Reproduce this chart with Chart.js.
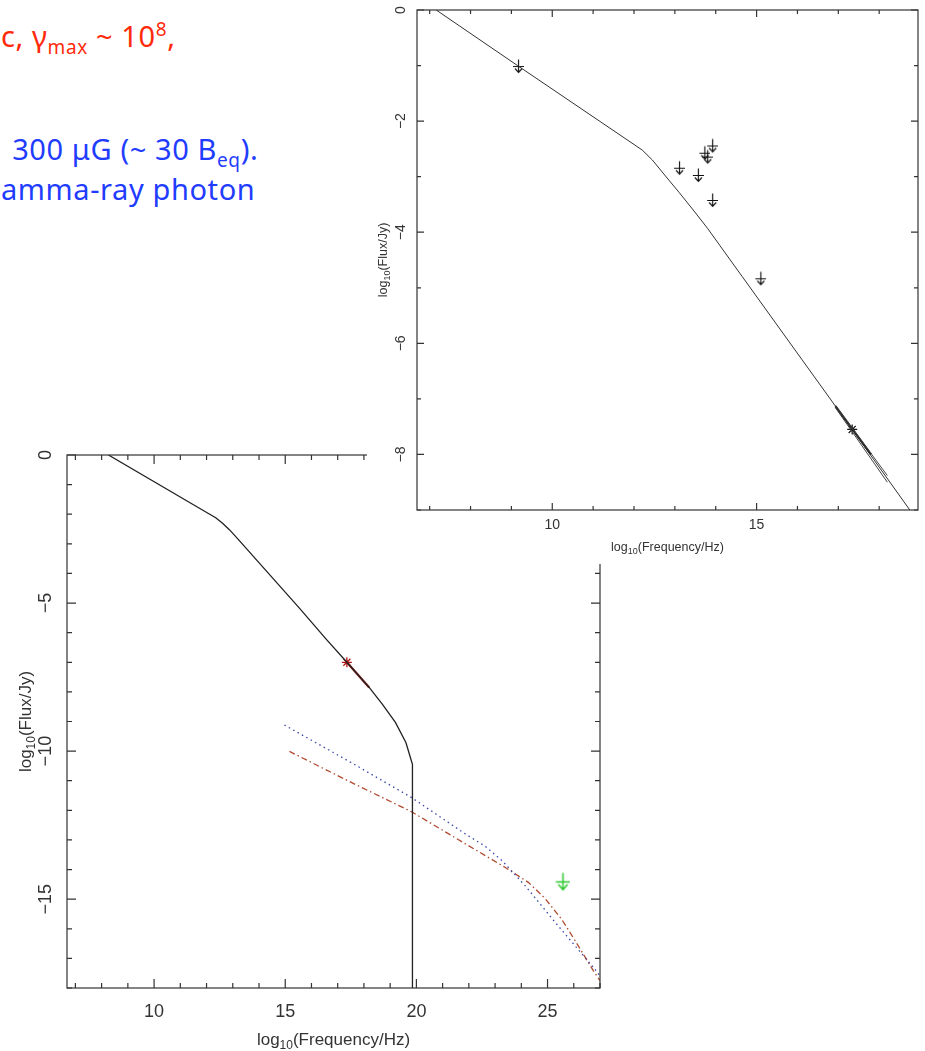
<!DOCTYPE html>
<html>
<head>
<meta charset="utf-8">
<script src="https://cdn.jsdelivr.net/npm/chart.js@4.4.1/dist/chart.umd.min.js"></script>
<style>
  body { margin: 0; background: #fff; }
  #page { position: relative; width: 925px; height: 1051px; overflow: hidden; }
  .note { position: absolute; white-space: nowrap; font-family: "Comic Sans MS", "Noto Sans", sans-serif; font-size: 29px; line-height: 29px; letter-spacing: 0.6px; }
  .note sub, .note sup { font-size: 19px; line-height: 0; }
  .red { color: #ff2a0a; }
  .blue { color: #1f3cff; }
  #lowerBox { position: absolute; left: 0; top: 430px; width: 620px; height: 621px; }
  #upperBox { position: absolute; left: 367px; top: 0; width: 558px; height: 564px; background: #fff; }
</style>
</head>
<body>
<div id="page">
  <div class="note red" style="left:1px; top:21px;">c, &gamma;<sub>max</sub> ~ 10<sup>8</sup>,</div>
  <div class="note blue" style="left:4px; top:134px;">&nbsp;300 &mu;G (~ 30 B<sub>eq</sub>).</div>
  <div class="note blue" style="left:1px; top:174px;">amma-ray photon</div>

  <div id="lowerBox"><canvas id="lowerChart" width="620" height="621"></canvas></div>
  <div id="upperBox"><canvas id="upperChart" width="558" height="564"></canvas></div>
</div>

<script>
// --- upper panel: radio to X-ray spectrum ---
const upModelX = [7.16, 9.15, 12.2, 12.45, 12.75, 13.1, 13.45, 13.8, 14.2, 14.65, 17.34, 18.75];
const upModelY = [0, -1.0, -2.52, -2.7, -2.97, -3.28, -3.6, -3.93, -4.34, -4.8, -7.55, -9.0];
const upLimitX = [9.15, 13.09, 13.55, 13.71, 13.78, 13.9, 13.9, 15.08];
const upLimitY = [-1.0, -2.83, -2.96, -2.56, -2.63, -2.43, -3.41, -4.82];
const upStarX = [17.34];
const upStarY = [-7.55];
const upBowX = [16.93, 18.2];
const upBowTopY = [-7.12, -8.38];
const upBowLowY = [-7.16, -8.5];
const upThickX = [16.93, 17.8];
const upThickY = [-7.13, -8.0];

// --- lower panel: synchrotron + inverse Compton ---
const loSyncX = [8.26, 12.12, 12.35, 12.6, 12.88, 13.2, 15.54, 16.56, 17.35, 18.2, 18.7, 19.2, 19.6, 19.8, 19.85, 19.85];
const loSyncY = [0, -2.0, -2.12, -2.3, -2.53, -2.84, -5.17, -6.22, -7.0, -7.85, -8.41, -9.03, -9.71, -10.3, -10.45, -18];
const loFitX = [17.35, 18.2];
const loFitY = [-7.0, -7.85];
const loStarX = [17.35];
const loStarY = [-7.0];
const loBlueX = [14.97, 17.5, 19.82, 21.87, 22.6, 23.27, 24.15, 25.3, 26.8, 27.0];
const loBlueY = [-9.12, -10.38, -11.57, -12.8, -13.2, -13.7, -14.55, -15.79, -17.36, -17.6];
const loRedX = [15.16, 17.5, 19.82, 22.0, 23.39, 24.28, 24.91, 25.54, 26.05, 26.75, 27.0];
const loRedY = [-10.01, -11.05, -12.05, -13.2, -13.93, -14.44, -14.98, -15.68, -16.4, -17.42, -17.75];
const loGammaX = [25.55];
const loGammaY = [-14.4];

const pts = (xs, ys) => xs.map((x, i) => ({ x: x, y: ys[i] }));

// upper-limit symbol: bar with a downward arrow
function limitMarker(color, s) {
  const c = document.createElement('canvas');
  c.width = Math.round(13 * s);
  c.height = Math.round(17 * s);
  const g = c.getContext('2d');
  const cx = Math.round(c.width / 2) + 0.5, cy = Math.round(c.height / 2) + 0.5;
  g.strokeStyle = color;
  g.lineWidth = 1.15 * s;
  g.beginPath();
  g.moveTo(cx, cy - 7 * s); g.lineTo(cx, cy + 6 * s);
  g.moveTo(cx - 5.5 * s, cy); g.lineTo(cx + 5.5 * s, cy);
  g.moveTo(cx - 3.5 * s, cy + 2 * s); g.lineTo(cx, cy + 6 * s); g.lineTo(cx + 3.5 * s, cy + 2 * s);
  g.stroke();
  return c;
}

function eachTick(min, max, minor, major, fn) {
  for (let i = Math.ceil(min / minor - 1e-9); i * minor <= max + 1e-9; i++) {
    const v = i * minor;
    fn(v, Math.abs(v / major - Math.round(v / major)) < 1e-6);
  }
}

const num = v => (v < 0 ? '\u2212' + Math.abs(v) : String(v));

// "log10(...)" with the 10 as subscript
function logTitle(ctx, x, y, rot, size, rest) {
  ctx.save();
  ctx.translate(x, y);
  ctx.rotate(rot);
  const big = size + 'px "Liberation Sans", Arial, sans-serif';
  const small = Math.round(size * 0.7) + 'px "Liberation Sans", Arial, sans-serif';
  ctx.font = big; const w1 = ctx.measureText('log').width; const w3 = ctx.measureText(rest).width;
  ctx.font = small; const w2 = ctx.measureText('10').width;
  let s = -(w1 + w2 + w3) / 2;
  ctx.textBaseline = 'middle';
  ctx.textAlign = 'left';
  ctx.font = big; ctx.fillText('log', s, 0);
  ctx.font = small; ctx.fillText('10', s + w1, size * 0.32);
  ctx.font = big; ctx.fillText(rest, s + w1 + w2, 0);
  ctx.restore();
}

// PGPLOT style box: inward ticks on all four sides, rotated y numbers
const pgFrame = {
  id: 'pgFrame',
  afterDraw(chart, args, o) {
    const ctx = chart.ctx, a = chart.chartArea;
    const xs = chart.scales.x, ys = chart.scales.y;
    ctx.save();
    ctx.strokeStyle = '#333';
    ctx.lineWidth = 1.2;
    ctx.strokeRect(a.left, a.top, a.right - a.left, a.bottom - a.top);
    ctx.beginPath();
    eachTick(xs.min, xs.max, o.xMinor, o.xMajor, (v, major) => {
      const p = xs.getPixelForValue(v), L = major ? o.majorLen : o.minorLen;
      ctx.moveTo(p, a.bottom); ctx.lineTo(p, a.bottom - L);
      ctx.moveTo(p, a.top); ctx.lineTo(p, a.top + L);
    });
    eachTick(ys.min, ys.max, o.yMinor, o.yMajor, (v, major) => {
      const p = ys.getPixelForValue(v), L = major ? o.majorLen : o.minorLen;
      ctx.moveTo(a.left, p); ctx.lineTo(a.left + L, p);
      ctx.moveTo(a.right, p); ctx.lineTo(a.right - L, p);
    });
    ctx.stroke();

    ctx.fillStyle = '#333';
    ctx.font = o.numSize + 'px "Liberation Sans", Arial, sans-serif';
    ctx.textAlign = 'center';
    ctx.textBaseline = 'middle';
    eachTick(xs.min, xs.max, o.xMajor, o.xMajor, v => {
      ctx.fillText(num(v), xs.getPixelForValue(v), a.bottom + o.xNumGap);
    });
    eachTick(ys.min, ys.max, o.yMajor, o.yMajor, v => {
      ctx.save();
      ctx.translate(a.left - o.yNumGap, ys.getPixelForValue(v));
      ctx.rotate(-Math.PI / 2);
      ctx.fillText(num(v), 0, 0);
      ctx.restore();
    });
    logTitle(ctx, (a.left + a.right) / 2, a.bottom + o.xTitleGap, 0, o.titleSize, '(Frequency/Hz)');
    logTitle(ctx, a.left - o.yTitleGap, (a.top + a.bottom) / 2, -Math.PI / 2, o.titleSize, '(Flux/Jy)');
    ctx.restore();
  }
};

function lineSet(data, color, width, dash) {
  return { data: data, showLine: true, borderColor: color, borderWidth: width, borderDash: dash || [],
           pointRadius: 0, fill: false, tension: 0 };
}

function baseOptions(xMin, xMax, yMin, yMax, pad, frame) {
  return {
    responsive: false,
    animation: false,
    layout: { padding: pad },
    plugins: { legend: { display: false }, tooltip: { enabled: false }, pgFrame: frame },
    scales: {
      x: { type: 'linear', min: xMin, max: xMax, display: false },
      y: { type: 'linear', min: yMin, max: yMax, display: false }
    }
  };
}

new Chart(document.getElementById('upperChart'), {
  type: 'scatter',
  data: {
    datasets: [
      lineSet(pts(upModelX, upModelY), '#333', 1),
      lineSet(pts(upBowX, upBowTopY), '#444', 1),
      lineSet(pts(upBowX, upBowLowY), '#444', 1),
      lineSet(pts(upThickX, upThickY), '#111', 2.2),
      { data: pts(upLimitX, upLimitY), pointStyle: limitMarker('#111', 1), pointRadius: 6 },
      { data: pts(upStarX, upStarY), pointStyle: 'star', pointRadius: 5, borderColor: '#111', borderWidth: 1.2 }
    ]
  },
  options: baseOptions(6.69, 18.95, -9, 0, { left: 50, top: 10, right: 7, bottom: 54 },
    { xMinor: 1, xMajor: 5, yMinor: 1, yMajor: 2, majorLen: 7, minorLen: 4,
      numSize: 14, xNumGap: 15, yNumGap: 16, titleSize: 12.5, xTitleGap: 38, yTitleGap: 33 }),
  plugins: [pgFrame]
});

new Chart(document.getElementById('lowerChart'), {
  type: 'scatter',
  data: {
    datasets: [
      lineSet(pts(loSyncX, loSyncY), '#222', 1.3),
      lineSet(pts(loFitX, loFitY), '#9a1a14', 2.2),
      lineSet(pts(loBlueX, loBlueY), '#3a46a8', 1.3, [1.5, 3.5]),
      lineSet(pts(loRedX, loRedY), '#b04a30', 1.3, [6, 3, 1.5, 3]),
      { data: pts(loStarX, loStarY), pointStyle: 'star', pointRadius: 5, borderColor: '#b01818', borderWidth: 1.3 },
      { data: pts(loGammaX, loGammaY), pointStyle: limitMarker('#2ec82e', 1.3), pointRadius: 8 }
    ]
  },
  options: baseOptions(6.68, 27, -18, 0, { left: 67, top: 25, right: 20, bottom: 63 },
    { xMinor: 1, xMajor: 5, yMinor: 1, yMajor: 5, majorLen: 9, minorLen: 5,
      numSize: 18, xNumGap: 24, yNumGap: 21, titleSize: 17, xTitleGap: 52, yTitleGap: 41 }),
  plugins: [pgFrame]
});
</script>
</body>
</html>
